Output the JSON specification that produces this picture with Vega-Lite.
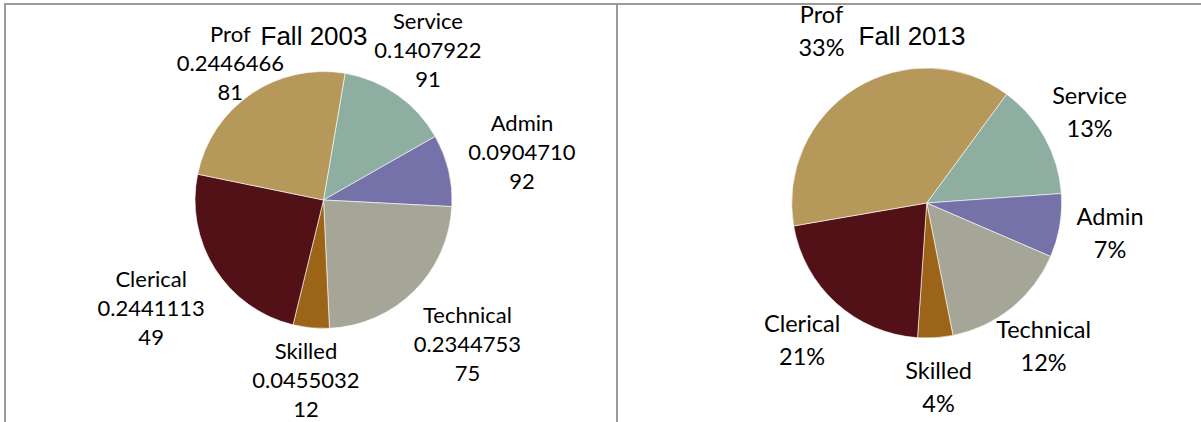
{
  "$schema": "https://vega.github.io/schema/vega-lite/v6.json",
  "padding": {"left": 4, "top": 3, "right": 0, "bottom": 0},
  "background": "white",
  "spacing": 0,
  "bounds": "flush",
  "config": {
    "view": {"stroke": "#9a9a9a", "strokeWidth": 2},
    "style": {"view": {"stroke": "#9a9a9a", "strokeWidth": 2}},
    "title": {"font": "Liberation Sans", "fontSize": 26, "fontWeight": "normal", "color": "#000000", "anchor": "middle", "frame": "group", "baseline": "alphabetic", "offset": -46},
    "text": {"font": "Lato", "align": "center", "baseline": "middle", "color": "#000000", "lineBreak": "\n"}
  },
  "datasets": {
    "f2003": [
      {"category": "Service", "seq": 1, "share": 0.140792291, "label": "Service\n0.1407922\n91"},
      {"category": "Admin", "seq": 2, "share": 0.090471092, "label": "Admin\n0.0904710\n92"},
      {"category": "Technical", "seq": 3, "share": 0.234475375, "label": "Technical\n0.2344753\n75"},
      {"category": "Skilled", "seq": 4, "share": 0.045503212, "label": "Skilled\n0.0455032\n12"},
      {"category": "Clerical", "seq": 5, "share": 0.244111349, "label": "Clerical\n0.2441113\n49"},
      {"category": "Prof", "seq": 6, "share": 0.244646681, "label": "Prof\n0.2446466\n81"}
    ],
    "f2013": [
      {"category": "Service", "seq": 1, "share": 0.138, "label": "Service\n13%"},
      {"category": "Admin", "seq": 2, "share": 0.076, "label": "Admin\n7%"},
      {"category": "Technical", "seq": 3, "share": 0.154, "label": "Technical\n12%"},
      {"category": "Skilled", "seq": 4, "share": 0.042, "label": "Skilled\n4%"},
      {"category": "Clerical", "seq": 5, "share": 0.212, "label": "Clerical\n21%"},
      {"category": "Prof", "seq": 6, "share": 0.378, "label": "Prof\n33%"}
    ]
  },
  "hconcat": [
    {
      "width": 612,
      "height": 430,
      "view": {"stroke": "#9a9a9a", "strokeWidth": 2},
      "title": {"text": "Fall 2003", "dx": 3},
      "data": {"name": "f2003"},
      "encoding": {
        "theta": {"field": "share", "type": "quantitative", "stack": true, "scale": {"range": [0.169, 6.452]}},
        "order": {"field": "seq", "type": "quantitative"},
        "text": {"field": "label", "type": "nominal"}
      },
      "layer": [
        {
          "mark": {"type": "arc", "outerRadius": 128.5, "x": 318.5, "y": 196, "stroke": "#ffffff", "strokeWidth": 0.6},
          "encoding": {
            "color": {"field": "category", "type": "nominal", "legend": null,
              "scale": {"domain": ["Service", "Admin", "Technical", "Skilled", "Clerical", "Prof"],
                        "range": ["#8DAEA0", "#7472A8", "#A6A698", "#9C6418", "#511117", "#B5985A"]}}
          }
        },
        {
          "mark": {"type": "text", "clip": true, "radius": 165, "x": 318.5, "y": 196, "dy": -29, "fontSize": 22, "lineHeight": 29},
          "encoding": {"opacity": {"condition": {"test": "datum.category === 'Prof'", "value": 1}, "value": 0}}
        },
        {
          "mark": {"type": "text", "clip": true, "radius": 182, "x": 318.5, "y": 196, "dy": -29, "fontSize": 22, "lineHeight": 29},
          "encoding": {"opacity": {"condition": {"test": "datum.category === 'Service' || datum.category === 'Skilled'", "value": 1}, "value": 0}}
        },
        {
          "mark": {"type": "text", "clip": true, "radius": 204, "x": 318.5, "y": 196, "dy": -29, "fontSize": 22, "lineHeight": 29},
          "encoding": {"opacity": {"condition": {"test": "datum.category === 'Admin' || datum.category === 'Technical' || datum.category === 'Clerical'", "value": 1}, "value": 0}}
        }
      ]
    },
    {
      "width": 600,
      "height": 430,
      "view": {"stroke": "#9a9a9a", "strokeWidth": 2},
      "title": {"text": "Fall 2013", "dx": -5},
      "data": {"name": "f2013"},
      "encoding": {
        "theta": {"field": "share", "type": "quantitative", "stack": true, "scale": {"range": [0.6335, 6.9167]}},
        "order": {"field": "seq", "type": "quantitative"},
        "text": {"field": "label", "type": "nominal"}
      },
      "layer": [
        {
          "mark": {"type": "arc", "outerRadius": 135, "x": 309.7, "y": 199, "stroke": "#ffffff", "strokeWidth": 0.6},
          "encoding": {
            "color": {"field": "category", "type": "nominal", "legend": null,
              "scale": {"domain": ["Service", "Admin", "Technical", "Skilled", "Clerical", "Prof"],
                        "range": ["#8DAEA0", "#7472A8", "#A6A698", "#9C6418", "#511117", "#B5985A"]}}
          }
        },
        {
          "mark": {"type": "text", "clip": true, "radius": 186, "x": 309.7, "y": 199, "dy": -16.5, "fontSize": 23.5, "lineHeight": 33},
          "encoding": {"opacity": {"condition": {"test": "datum.category !== 'Prof'", "value": 1}, "value": 0}}
        },
        {
          "mark": {"type": "text", "clip": true, "radius": 200, "x": 309.7, "y": 199, "dy": -16.5, "fontSize": 23.5, "lineHeight": 33},
          "encoding": {"opacity": {"condition": {"test": "datum.category === 'Prof'", "value": 1}, "value": 0}}
        }
      ]
    }
  ]
}
